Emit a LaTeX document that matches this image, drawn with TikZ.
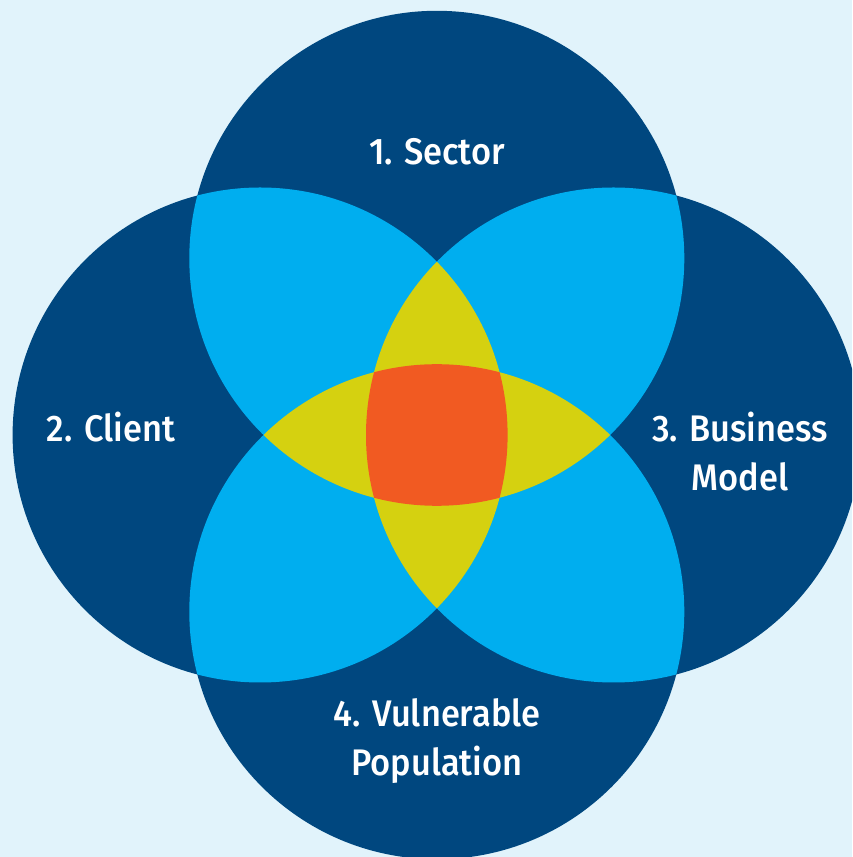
\documentclass[tikz,border=0pt]{standalone}
\usepackage{fontspec}
\setmainfont{Fira Sans}[UprightFont={Fira Sans Medium},BoldFont={Fira Sans SemiBold},FakeStretch=0.93]
\definecolor{bgc}{HTML}{E1F3FB}
\definecolor{darkb}{HTML}{00477F}
\definecolor{lightb}{HTML}{00AEEF}
\definecolor{yel}{HTML}{D5D110}
\definecolor{ora}{HTML}{F15A22}
\tikzset{lbl/.style={text=white,font=\fontsize{37}{46}\selectfont,inner sep=0pt,anchor=base}}
\newcommand{\cT}{(436.8,598.7) circle (247.5)}
\newcommand{\cB}{(436.8,245.3) circle (247.5)}
\newcommand{\cL}{(260.1,422) circle (247.5)}
\newcommand{\cR}{(613.5,422) circle (247.5)}
\begin{document}
\begin{tikzpicture}[x=1pt,y=1pt]
\fill[bgc] (0,0) rectangle (852,857);
\useasboundingbox (0,0) rectangle (852,857);
\begin{scope}
\clip (0,0) rectangle (852,857);
% single circles
\fill[darkb] \cT; \fill[darkb] \cB; \fill[darkb] \cL; \fill[darkb] \cR;
% pairs
\begin{scope}\clip \cT; \fill[lightb] \cL; \fill[lightb] \cR; \end{scope}
\begin{scope}\clip \cB; \fill[lightb] \cL; \fill[lightb] \cR; \end{scope}
% triples
\begin{scope}\clip \cT; \clip \cL; \fill[yel] \cR; \fill[yel] \cB; \end{scope}
\begin{scope}\clip \cB; \clip \cR; \fill[yel] \cL; \fill[yel] \cT; \end{scope}
% all four
\begin{scope}\clip \cT; \clip \cB; \clip \cL; \fill[ora] \cR; \end{scope}
\end{scope}
\node[lbl] (t1) at (437,692) {1. Sector};
\node[lbl] (t2) at (111,415) {2. Client};
\node[lbl] (t3a) at (740,415) {3. Business};
\node[lbl] (t3b) at (740,366.5) {Model};
\node[lbl] (t4a) at (437,130) {4. Vulnerable};
\node[lbl] (t4b) at (437,81) {Population};
\end{tikzpicture}
\end{document}
